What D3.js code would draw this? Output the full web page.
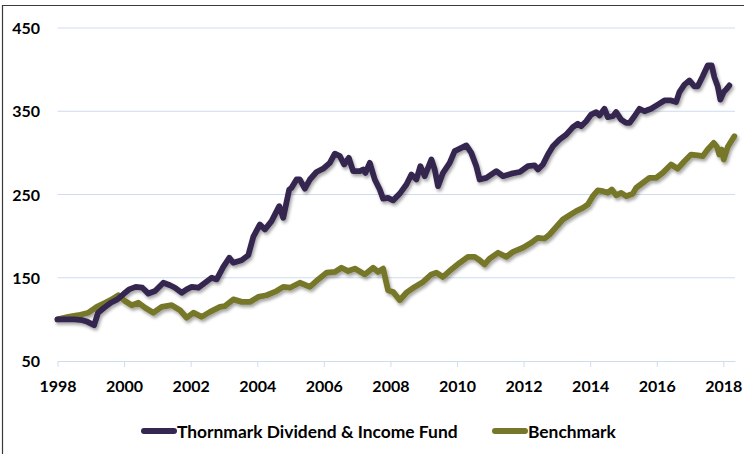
<!DOCTYPE html>
<html>
<head>
<meta charset="utf-8">
<script src="https://cdn.jsdelivr.net/npm/d3@7"></script>
<style>
  body { margin: 0; background: #fff; }
  text { font-family: Lato, "Open Sans", sans-serif; font-weight: 700; fill: #000; }
</style>
</head>
<body>
<svg id="chart" width="744" height="454"></svg>
<script>
const seriesNames = ["Thornmark Dividend & Income Fund", "Benchmark"];
const yTicks = [50, 150, 250, 350, 450];
const xTicks = [1998, 2000, 2002, 2004, 2006, 2008, 2010, 2012, 2014, 2016, 2018];

const fundDates = [1998.0, 1998.3, 1998.5, 1998.75, 1998.9, 1999.1, 1999.22, 1999.4, 1999.6, 1999.8,
  2000.0, 2000.15, 2000.35, 2000.55, 2000.73, 2000.93, 2001.18, 2001.38, 2001.53, 2001.73,
  2001.88, 2002.03, 2002.23, 2002.43, 2002.63, 2002.78, 2002.98, 2003.16, 2003.28, 2003.53,
  2003.73, 2003.88, 2004.08, 2004.23, 2004.43, 2004.66, 2004.78, 2004.96, 2005.03, 2005.18,
  2005.28, 2005.43, 2005.58, 2005.78, 2005.98, 2006.18, 2006.33, 2006.48, 2006.61, 2006.75,
  2006.88, 2007.08, 2007.18, 2007.25, 2007.38, 2007.53, 2007.68, 2007.78, 2007.93, 2008.08,
  2008.28, 2008.48, 2008.63, 2008.78, 2008.9, 2009.03, 2009.23, 2009.33, 2009.43, 2009.58,
  2009.78, 2009.93, 2010.13, 2010.28, 2010.43, 2010.58, 2010.68, 2010.88, 2011.18, 2011.38,
  2011.63, 2011.88, 2012.13, 2012.33, 2012.43, 2012.58, 2012.73, 2012.88, 2013.08, 2013.28,
  2013.48, 2013.63, 2013.73, 2013.88, 2014.03, 2014.18, 2014.28, 2014.43, 2014.53, 2014.68,
  2014.78, 2014.93, 2015.08, 2015.18, 2015.33, 2015.48, 2015.63, 2015.83, 2016.03, 2016.23,
  2016.43, 2016.58, 2016.68, 2016.83, 2016.98, 2017.13, 2017.23, 2017.38, 2017.53, 2017.65,
  2017.73, 2017.83, 2017.91, 2018.01, 2018.08, 2018.18];
const fundValues = [100, 100, 100, 99, 97, 93, 108, 114, 120, 124,
  131, 136, 139, 138, 131, 134, 144, 141, 138, 132,
  136, 139, 138, 144, 150, 148, 163, 174, 168, 171,
  177, 199, 214, 208, 218, 236, 222, 256, 258, 268,
  268, 257, 268, 277, 281, 288, 299, 296, 286, 294,
  278, 278, 280, 276, 288, 268, 256, 245, 246, 243,
  251, 262, 274, 268, 284, 272, 292, 280, 260, 276,
  288, 302, 306, 309, 300, 284, 268, 270, 278, 272,
  275, 277, 284, 285, 280, 286, 298, 308, 316, 322,
  331, 335, 332, 338, 346, 349, 345, 353, 343, 344,
  349, 340, 336, 336, 344, 353, 350, 353, 358, 363,
  363, 361, 373, 382, 387, 380, 380, 392, 405, 405,
  391, 380, 364, 373, 376, 381];

const benchDates = [1998.0, 1998.33, 1998.63, 1998.93, 1999.18, 1999.43, 1999.63, 1999.83, 2000.03, 2000.23,
  2000.43, 2000.63, 2000.88, 2001.13, 2001.43, 2001.68, 2001.88, 2002.08, 2002.33, 2002.58,
  2002.88, 2003.03, 2003.28, 2003.53, 2003.78, 2004.03, 2004.28, 2004.58, 2004.78, 2004.98,
  2005.28, 2005.58, 2005.83, 2006.08, 2006.33, 2006.53, 2006.73, 2006.93, 2007.23, 2007.48,
  2007.63, 2007.78, 2007.93, 2008.08, 2008.28, 2008.48, 2008.73, 2008.98, 2009.23, 2009.38,
  2009.58, 2009.83, 2010.08, 2010.33, 2010.53, 2010.68, 2010.83, 2010.98, 2011.23, 2011.48,
  2011.68, 2011.98, 2012.23, 2012.43, 2012.63, 2012.78, 2012.98, 2013.18, 2013.38, 2013.58,
  2013.78, 2013.93, 2014.08, 2014.23, 2014.38, 2014.53, 2014.65, 2014.78, 2014.93, 2015.08,
  2015.28, 2015.38, 2015.58, 2015.78, 2015.98, 2016.18, 2016.43, 2016.63, 2016.83, 2017.03,
  2017.23, 2017.38, 2017.53, 2017.71, 2017.81, 2017.88, 2017.95, 2018.01, 2018.13, 2018.33];
const benchValues = [100, 103, 105, 108, 115, 120, 124, 129, 122, 117,
  120, 114, 108, 115, 117, 111, 102, 108, 103, 109,
  115, 116, 124, 121, 121, 127, 129, 134, 139, 138,
  144, 139, 148, 156, 157, 162, 158, 161, 154, 162,
  157, 161, 135, 133, 123, 132, 139, 145, 154, 156,
  151, 160, 168, 175, 175, 171, 166, 173, 180, 175,
  181, 186, 192, 198, 197, 202, 211, 220, 225, 230,
  234, 238, 248, 255, 254, 252, 256, 249, 252, 248,
  251, 258, 264, 270, 270, 276, 286, 281, 290, 298,
  297, 296, 304, 312, 307, 298, 304, 292, 307, 320];

const colors = ["#35274f", "#77772b"];

const svg = d3.select("#chart");

const x = d3.scaleLinear().domain([1998, 2018.35]).range([57.5, 735]);
const y = d3.scaleLinear().domain([50, 450]).range([361, 28]);

// frame (only left and top edges show in the crop)
svg.append("path")
  .attr("d", "M2.5,454V5.5H744")
  .attr("fill", "none")
  .attr("stroke", "#3a3a3a")
  .attr("stroke-width", 1.2);

const defs = svg.append("defs");
const f = defs.append("filter").attr("id", "shadow")
  .attr("x", "-5%").attr("y", "-10%").attr("width", "110%").attr("height", "130%");
f.append("feDropShadow")
  .attr("dx", 1.5).attr("dy", 2.5).attr("stdDeviation", 1.4)
  .attr("flood-color", "#000").attr("flood-opacity", 0.35);

// gridlines
svg.append("g")
  .selectAll("line")
  .data(yTicks.slice(1))
  .join("line")
  .attr("x1", x(1998)).attr("x2", x.range()[1])
  .attr("y1", d => y(d)).attr("y2", d => y(d))
  .attr("stroke", "#cddcef").attr("stroke-width", 1);

// y labels
svg.append("g")
  .selectAll("text")
  .data(yTicks)
  .join("text")
  .attr("x", 40).attr("y", d => y(d) + 6)
  .attr("text-anchor", "end")
  .attr("font-size", 16)
  .text(d => d);

// x axis
const xAxis = d3.axisBottom(x)
  .tickValues(xTicks)
  .tickFormat(d3.format("d"))
  .tickSize(6)
  .tickSizeOuter(0)
  .tickPadding(14);

const gx = svg.append("g")
  .attr("transform", `translate(0,${y(50)})`)
  .call(xAxis);
gx.select(".domain").attr("stroke", "#cddcef");
gx.selectAll(".tick line").attr("stroke", "#cddcef");
gx.selectAll(".tick text")
  .attr("font-size", 16)
  .attr("font-family", "Lato, sans-serif")
  .attr("font-weight", 700)
  .attr("fill", "#000");

// lines
const line = d3.line().x(d => x(d[0])).y(d => y(d[1]));
const series = [
  d3.zip(fundDates, fundValues),
  d3.zip(benchDates, benchValues)
];

svg.append("g")
  .attr("filter", "url(#shadow)")
  .selectAll("path")
  .data(series.slice().reverse())
  .join("path")
  .attr("d", line)
  .attr("fill", "none")
  .attr("stroke", (d, i) => colors[1 - i])
  .attr("stroke-width", 5.8)
  .attr("stroke-linejoin", "round")
  .attr("stroke-linecap", "round");

// legend
const legendItems = [
  {name: seriesNames[0], color: colors[0], x: 142},
  {name: seriesNames[1], color: colors[1], x: 493}
];
const lg = svg.append("g").attr("transform", "translate(0,431)");
const li = lg.selectAll("g").data(legendItems).join("g")
  .attr("transform", d => `translate(${d.x},0)`);
li.append("line")
  .attr("x1", 2).attr("x2", 32)
  .attr("stroke", d => d.color)
  .attr("stroke-width", 6)
  .attr("stroke-linecap", "round");
li.append("text")
  .attr("x", 35).attr("y", 6.5)
  .attr("font-size", 17.4)
  .text(d => d.name);
</script>
</body>
</html>
